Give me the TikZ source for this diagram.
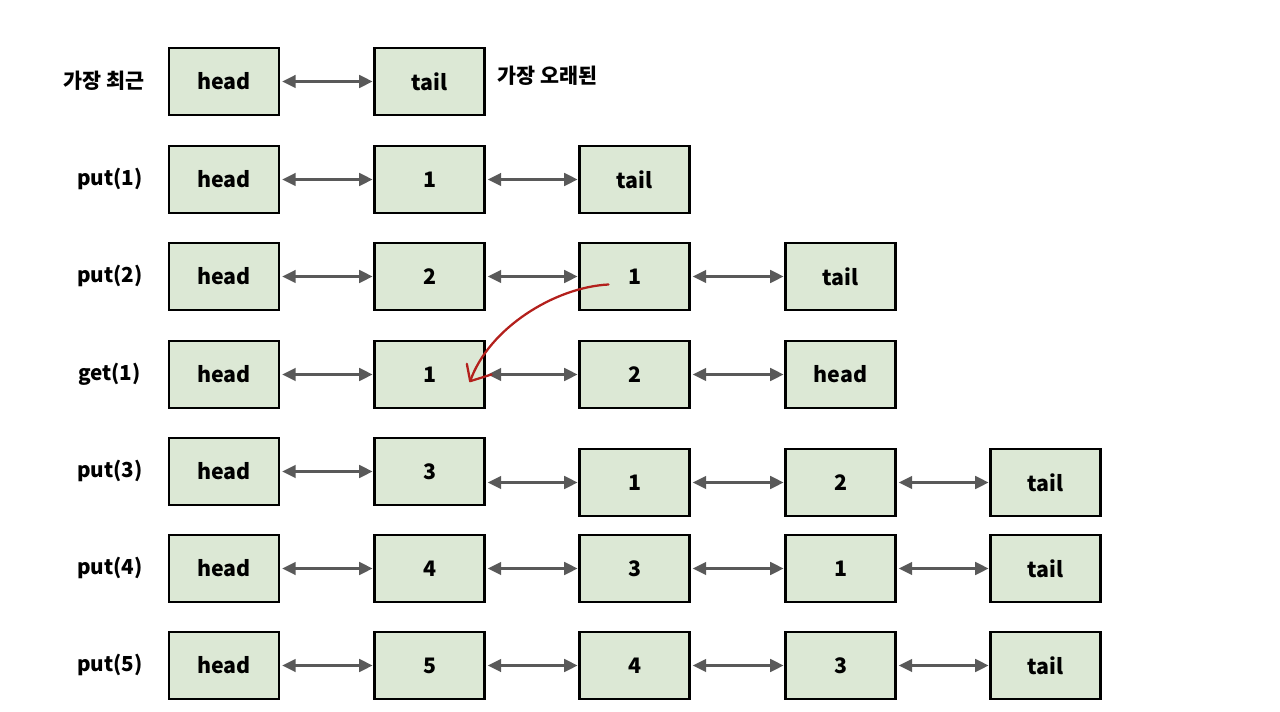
\documentclass[tikz,border=0pt]{standalone}
\usepackage{fontspec}
\setmainfont{Noto Sans CJK KR}
\usetikzlibrary{arrows.meta}
\definecolor{boxfill}{HTML}{DCE8D5}
\definecolor{linkgray}{HTML}{595959}
\definecolor{redarrow}{HTML}{B3201C}
\tikzset{
  cell/.style={draw=black, line width=1.9pt, fill=boxfill, minimum width=82.5pt, minimum height=50.25pt, inner sep=0pt, font=\fontsize{16}{16}\selectfont\bfseries},
  lbl/.style={anchor=east, inner sep=0pt, font=\fontsize{15.5}{15.5}\selectfont\bfseries},
  link/.style={draw=linkgray, line width=1.8pt, arrows={Triangle[length=10pt,width=9.5pt]-Triangle[length=10pt,width=9.5pt]}, shorten <=1.5pt, shorten >=0.5pt},
  redline/.style={draw=redarrow, line width=1.7pt, line cap=round, line join=round}
}
\begin{document}
\begin{tikzpicture}[x=0.75pt,y=-0.75pt]
\useasboundingbox (0,0) rectangle (1280,712);
% row 0
\node[lbl] (l0) at (145,80.5) {가장 최근};
\node[cell] (a0) at (224,81.5) {head};
\node[cell] (b0) at (429.5,81.5) {tail};
\node[inner sep=0pt, anchor=west, font=\fontsize{15.5}{15.5}\selectfont\bfseries] (r0) at (497,76) {가장 오래된};
\draw[link] (a0) -- (b0);
% row 1
\node[lbl] (l1) at (143,179) {put(1)};
\node[cell] (a1) at (224,179.5) {head};
\node[cell] (b1) at (429.5,179.5) {1};
\node[cell] (c1) at (634.5,179.5) {tail};
\draw[link] (a1) -- (b1);
\draw[link] (b1) -- (c1);
% row 2
\node[lbl] (l2) at (143,276) {put(2)};
\node[cell] (a2) at (224,276.5) {head};
\node[cell] (b2) at (429.5,276.5) {2};
\node[cell] (c2) at (634.5,276.5) {1};
\node[cell] (d2) at (840.5,276.5) {tail};
\draw[link] (a2) -- (b2);
\draw[link] (b2) -- (c2);
\draw[link] (c2) -- (d2);
% row 3
\node[lbl] (l3) at (141,374) {get(1)};
\node[cell] (a3) at (224,374.5) {head};
\node[cell] (b3) at (429.5,374.5) {1};
\node[cell] (c3) at (634.5,374.5) {2};
\node[cell] (d3) at (840.5,374.5) {head};
\draw[link] (a3) -- (b3);
\draw[link] (b3) -- (c3);
\draw[link] (c3) -- (d3);
% row 4
\node[lbl] (l4) at (143,471) {put(3)};
\node[cell] (a4) at (224,471.5) {head};
\node[cell] (b4) at (429.5,471.5) {3};
\node[cell] (c4) at (634.5,482.5) {1};
\node[cell] (d4) at (840.5,482.5) {2};
\node[cell] (e4) at (1045.5,482.5) {tail};
\draw[link] (a4) -- (b4);
\draw[link] (c4.west -| b4.east) -- (c4.west);
\draw[link] (c4) -- (d4);
\draw[link] (d4) -- (e4);
% row 5
\node[lbl] (l5) at (143,568) {put(4)};
\node[cell] (a5) at (224,568.5) {head};
\node[cell] (b5) at (429.5,568.5) {4};
\node[cell] (c5) at (634.5,568.5) {3};
\node[cell] (d5) at (840.5,568.5) {1};
\node[cell] (e5) at (1045.5,568.5) {tail};
\draw[link] (a5) -- (b5);
\draw[link] (b5) -- (c5);
\draw[link] (c5) -- (d5);
\draw[link] (d5) -- (e5);
% row 6
\node[lbl] (l6) at (143,665) {put(5)};
\node[cell] (a6) at (224,665.5) {head};
\node[cell] (b6) at (429.5,665.5) {5};
\node[cell] (c6) at (634.5,665.5) {4};
\node[cell] (d6) at (840.5,665.5) {3};
\node[cell] (e6) at (1045.5,665.5) {tail};
\draw[link] (a6) -- (b6);
\draw[link] (b6) -- (c6);
\draw[link] (c6) -- (d6);
\draw[link] (d6) -- (e6);
% red move arrow
\coordinate (rs) at ([xshift=-19.5pt,yshift=-6pt]c2.center);
\coordinate (rt) at ([xshift=30.5pt,yshift=-5pt]b3.center);
\draw[redline] (rs) .. controls ([xshift=-40pt,yshift=-2pt]rs) and ([xshift=14pt,yshift=40pt]rt) .. (rt);
\draw[redline] ([xshift=-2.5pt,yshift=13pt]rt) -- (rt) -- ([xshift=16pt,yshift=5pt]rt);
\end{tikzpicture}
\end{document}
